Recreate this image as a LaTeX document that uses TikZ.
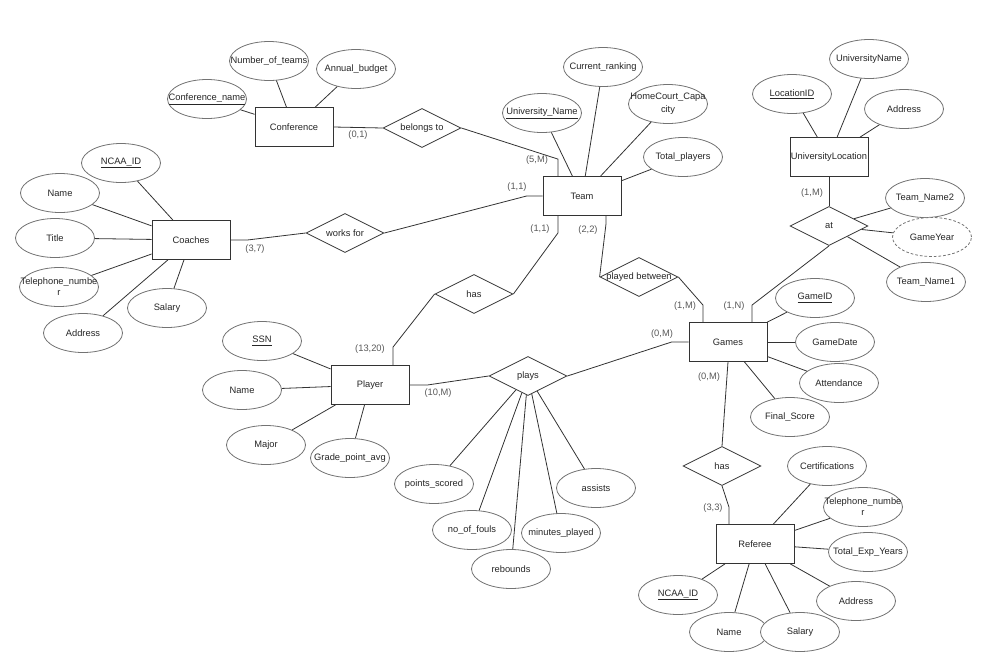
\documentclass[tikz,border=0pt]{standalone}
\usepackage{fontspec}
\setmainfont{Liberation Sans}
\usetikzlibrary{shapes.geometric}

\tikzset{
    entity/.style={draw=black!80, fill=white, line width=0.6pt,
        minimum width=58.5pt, minimum height=29.25pt, inner sep=0pt},
    attr/.style={ellipse, draw=black!55, fill=white, line width=0.6pt,
        minimum width=59.25pt, minimum height=29.25pt, inner sep=0pt},
    rel/.style={diamond, draw=black!80, fill=white, line width=0.6pt,
        minimum width=58.5pt, minimum height=29.25pt, inner sep=0pt},
    card/.style={text=black!65, inner sep=1pt},
    link/.style={draw=black!80, line width=0.6pt}
}

\begin{document}
\begin{tikzpicture}[x=0.75pt,y=-0.75pt,font=\fontsize{7}{8}\selectfont,text=black!85]

    \useasboundingbox (0,0) rectangle (983,661);

    % Entity sets
    \foreach \n/\x/\y/\t in {
        conf/294/127/Conference,
        team/582/196/Team,
        uloc/829/157/UniversityLocation,
        coach/191/240/Coaches,
        player/370/385/Player,
        games/728/342/Games,
        referee/755/544/Referee}{
        \node[entity] (\n) at (\x,\y) {\makebox[0pt]{\t}};
    }

    % Relationships
    \foreach \n/\x/\y/\t in {
        belongs/422/128/belongs to,
        works/345/233/works for,
        hasp/474/294/has,
        played/639/277/played between,
        atrel/829/226/at,
        plays/528/376/plays,
        hasr/722/466/has}{
        \node[rel] (\n) at (\x,\y) {\makebox[0pt]{\t}};
    }

    % Attributes
    \foreach \n/\x/\y/\t in {
        cname/207/99/\underline{Conference\_name},
        nteams/269/61/Number\_of\_teams,
        budget/356/69/Annual\_budget,
        uname/542/113/\underline{University\_Name},
        crank/603/67/Current\_ranking,
        hcc/668/104/\shortstack{HomeCourt\_Capa\\city},
        tplayers/683/157/Total\_players,
        locid/792/94/\underline{LocationID},
        uniname/869/59/UniversityName,
        uaddr/904/109/Address,
        tname2/925/198/Team\_Name2,
        tname1/926/282/Team\_Name1,
        cid/121/163/\underline{NCAA\_ID},
        coachname/60/193/Name,
        ctitle/55/238/Title,
        ctel/59/287/\shortstack{Telephone\_numbe\\r},
        csal/167/308/Salary,
        caddr/83/333/Address,
        ssn/262/341/\underline{SSN},
        pname/242/390/Name,
        major/266/445/Major,
        gpa/350/458/Grade\_point\_avg,
        pts/434/484/points\_scored,
        fouls/472/530/no\_of\_fouls,
        reb/511/569/rebounds,
        mins/561/533/minutes\_played,
        ast/596/488/assists,
        gid/815/298/\underline{GameID},
        gdate/835/342/GameDate,
        att/839/383/Attendance,
        fscore/790/417/Final\_Score,
        cert/827/466/Certifications,
        rtel/863/507/\shortstack{Telephone\_numbe\\r},
        texp/868/552/Total\_Exp\_Years,
        raddr/856/601/Address,
        rid/678/595/\underline{NCAA\_ID},
        rname/729/632/Name,
        rsal/800/632/Salary}{
        \node[attr] (\n) at (\x,\y) {\makebox[0pt]{\t}};
    }

    % Derived attribute
    \node[attr, dashed, dash pattern=on 2pt off 1.5pt] (gyear) at (932,237)
        {GameYear};

    % Attribute links
    \foreach \a/\b in {
        cname/conf, nteams/conf, budget/conf,
        uname/team, crank/team, hcc/team, tplayers/team,
        locid/uloc, uniname/uloc, uaddr/uloc,
        tname2/atrel, gyear/atrel, tname1/atrel,
        cid/coach, coachname/coach, ctitle/coach, ctel/coach, csal/coach, caddr/coach,
        ssn/player, pname/player, major/player, gpa/player,
        pts/plays, fouls/plays, reb/plays, mins/plays, ast/plays,
        gid/games, gdate/games, att/games, fscore/games,
        cert/referee, rtel/referee, texp/referee, raddr/referee,
        rid/referee, rname/referee, rsal/referee}{
        \draw[link] (\a) -- (\b);
    }

    % Relationship links
    \draw[link] (conf.east) -- (belongs.west);
    \draw[link] (belongs.east) -- ([shift={(-24,-17)}]team.north)
        -- ([shift={(-24,0)}]team.north);
    \draw[link] (works.east) -- ([shift={(-16,0)}]team.west) -- (team.west);
    \draw[link] (coach.east) -- ([shift={(17,0)}]coach.east) -- (works.west);
    \draw[link] ([shift={(-24,0)}]team.south) -- ([shift={(-24,17)}]team.south)
        -- (hasp.east);
    \draw[link] (hasp.west) -- ([shift={(23,-18)}]player.north)
        -- ([shift={(23,0)}]player.north);
    \draw[link] ([shift={(24,0)}]team.south) -- ([shift={(24,8)}]team.south)
        -- (played.west);
    \draw[link] (played.east) -- ([shift={(-25,-17)}]games.north)
        -- ([shift={(-25,0)}]games.north);
    \draw[link] (atrel.south) -- ([shift={(24,-17)}]games.north)
        -- ([shift={(24,0)}]games.north);
    \draw[link] (uloc.south) -- (atrel.north);
    \draw[link] (player.east) -- ([shift={(18,0)}]player.east) -- (plays.west);
    \draw[link] (plays.east) -- ([shift={(-17,0)}]games.west) -- (games.west);
    \draw[link] (games.south) -- (hasr.north);
    \draw[link] (hasr.south) -- ([shift={(-26,-17)}]referee.north)
        -- ([shift={(-26,0)}]referee.north);

    % Cardinalities
    \foreach \n/\x/\y/\t in {
        k1/358/135/{(0,1)},
        k2/537/160/{(5,M)},
        k3/517/187/{(1,1)},
        k4/255/249/{(3,7)},
        k5/540/229/{(1,1)},
        k6/588/230/{(2,2)},
        k7/370/349/{(13,20)},
        k8/685/306/{(1,M)},
        k9/734/306/{(1,N)},
        k10/812/193/{(1,M)},
        k11/438/393/{(10,M)},
        k12/662/334/{(0,M)},
        k13/709/377/{(0,M)},
        k14/713/508/{(3,3)}}{
        \node[card] (\n) at (\x,\y) {\t};
    }

\end{tikzpicture}
\end{document}
